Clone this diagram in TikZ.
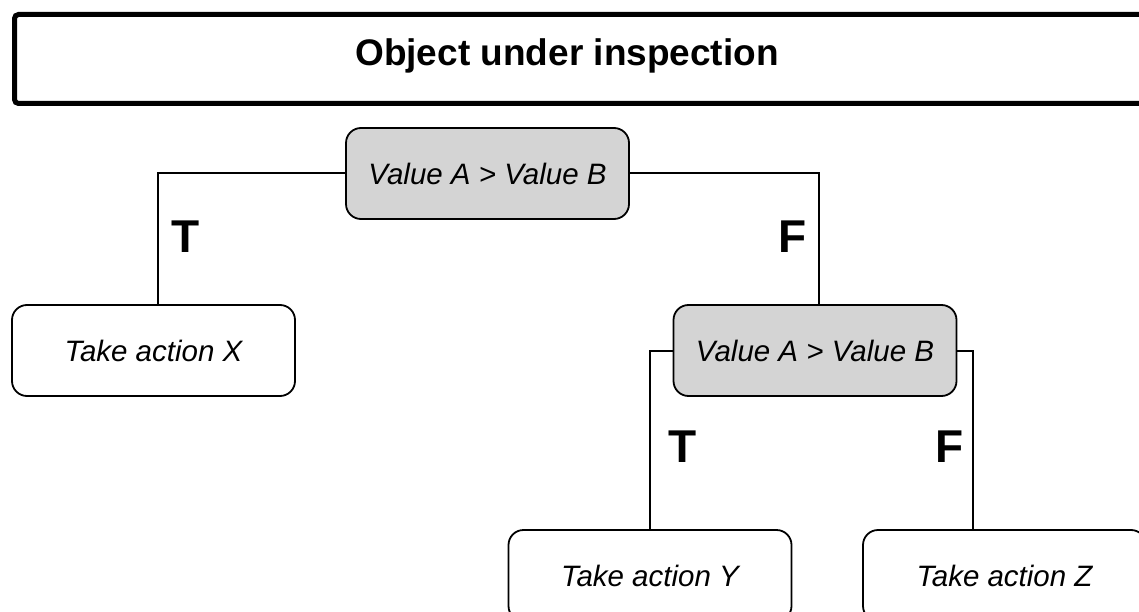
\documentclass[tikz,border=0pt]{standalone}
\usepackage{fontspec}
\setmainfont{Liberation Sans}
\begin{document}
\begin{tikzpicture}[x=1pt,y=-1pt,
  frame/.style={draw=black,line width=5pt,rounded corners=4pt,fill=white},
  decision/.style={draw=black,line width=1.8pt,rounded corners=15pt,fill=black!17,
    minimum width=283pt,minimum height=91pt,inner sep=0pt,font=\fontsize{29.5}{33}\selectfont\itshape},
  action/.style={draw=black,line width=1.8pt,rounded corners=15pt,fill=white,
    minimum width=283pt,minimum height=91pt,inner sep=0pt,font=\fontsize{29.5}{33}\selectfont\itshape},
  branch/.style={inner sep=0pt,font=\fontsize{46}{50}\selectfont\bfseries},
  link/.style={draw=black,line width=2pt}]
\useasboundingbox (0,0) rectangle (1139,612);
\fill[white] (0,0) rectangle (1139,612);
\clip (0,0) rectangle (1139,612);

% heading frame
\node[frame,minimum width=1150pt,minimum height=89pt,inner sep=0pt,anchor=north west] (head) at (12,12) {};
\node[inner sep=0pt,font=\fontsize{37}{41}\selectfont\bfseries] (title) at (567,56) {Object under inspection};

% decision boxes
\node[decision] (d1) at (487.5,173.5) {Value A > Value B};
\node[decision] (d2) at (815,350.5) {Value A > Value B};

% outcomes
\node[action] (ax) at (153.5,350.5) {Take action X};
\node[action] (ay) at (650,575.5) {Take action Y};
\node[action] (az) at (1004.5,575.5) {Take action Z};

% branches
\draw[link] (d1.west) -| ([xshift=4.5pt]ax.north);
\draw[link] (d1.east) -| ([xshift=4pt]d2.north);
\draw[link] (d2.west) -| (ay.north);
\draw[link] (d2.east) -| ([xshift=-31.5pt]az.north);

% branch labels
\node[branch] (t1) at (186,237) {T};
\node[branch] (f1) at (793,237) {F};
\node[branch] (t2) at (683,447) {T};
\node[branch] (f2) at (950,447) {F};
\end{tikzpicture}
\end{document}
